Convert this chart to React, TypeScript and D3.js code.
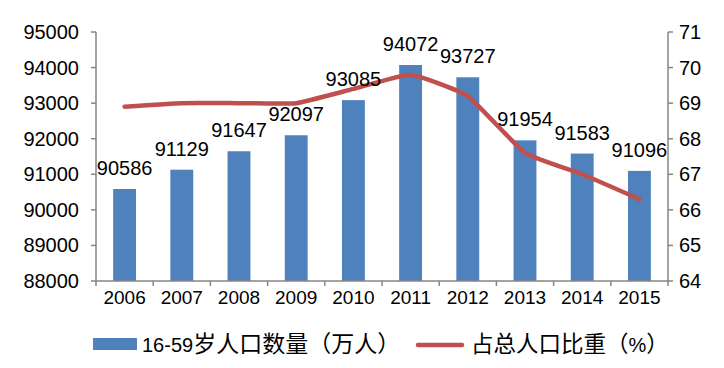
import React, { useEffect, useRef } from 'react'
import * as d3 from 'd3'

// data
const years = ['2006', '2007', '2008', '2009', '2010', '2011', '2012', '2013', '2014', '2015']
const population = [90586, 91129, 91647, 92097, 93085, 94072, 93727, 91954, 91583, 91096]
const share = [68.9, 69.0, 69.0, 69.0, 69.4, 69.8, 69.2, 67.6, 67.0, 66.3]
const leftTicks = [88000, 89000, 90000, 91000, 92000, 93000, 94000, 95000]
const rightTicks = [64, 65, 66, 67, 68, 69, 70, 71]
const barName = ['16-59', '岁人口数量（万人）']
const lineName = ['', '占总人口比重（', '%', '）']

const W = 724
const H = 368
const font = '"Liberation Sans", Arial, "Noto Sans CJK SC", sans-serif'
const cjk = '"Noto Sans CJK SC", sans-serif'

function App() {
  const ref = useRef<SVGSVGElement>(null)

  useEffect(() => {
    const svg = d3.select(ref.current)
    svg.selectAll('*').remove()

    const left = 96, right = 668, top = 32, bottom = 281

    const x = d3.scaleBand().domain(years).range([left, right]).paddingInner(0.6).paddingOuter(0.3)
    const yL = d3.scaleLinear().domain([88000, 95000]).range([bottom, top])
    const yR = d3.scaleLinear().domain([64, 71]).range([bottom, top])
    const axisColor = '#868686'

    // bars
    svg.append('g')
      .selectAll('rect')
      .data(population)
      .enter()
      .append('rect')
      .attr('x', (d, i) => x(years[i]))
      .attr('y', (d) => yL(d))
      .attr('width', x.bandwidth())
      .attr('height', (d) => bottom - yL(d))
      .attr('fill', '#4F81BD')

    // axes
    const g = svg.append('g').attr('stroke', axisColor).attr('stroke-width', 1.5)
    g.append('line').attr('x1', left).attr('x2', left).attr('y1', top).attr('y2', bottom)
    g.append('line').attr('x1', right).attr('x2', right).attr('y1', top).attr('y2', bottom)
    g.append('line').attr('x1', left).attr('x2', right).attr('y1', bottom).attr('y2', bottom)
    leftTicks.forEach((t) => {
      g.append('line').attr('x1', left - 5).attr('x2', left).attr('y1', yL(t)).attr('y2', yL(t))
    })
    rightTicks.forEach((t) => {
      g.append('line').attr('x1', right).attr('x2', right + 5).attr('y1', yR(t)).attr('y2', yR(t))
    })
    const step = (right - left) / years.length
    d3.range(years.length + 1).forEach((i) => {
      g.append('line').attr('x1', left + i * step).attr('x2', left + i * step).attr('y1', bottom).attr('y2', bottom + 5)
    })

    svg.append('g')
      .selectAll('text')
      .data(leftTicks)
      .enter()
      .append('text')
      .attr('x', left - 17)
      .attr('y', (d) => yL(d) + 7)
      .attr('text-anchor', 'end')
      .attr('font-size', 20)
      .attr('font-family', font)
      .text((d) => d)

    svg.append('g')
      .selectAll('text')
      .data(rightTicks)
      .enter()
      .append('text')
      .attr('x', right + 11)
      .attr('y', (d) => yR(d) + 7)
      .attr('font-size', 20)
      .attr('font-family', font)
      .text((d) => d)

    svg.append('g')
      .selectAll('text')
      .data(years)
      .enter()
      .append('text')
      .attr('x', (d) => x(d) + x.bandwidth() / 2)
      .attr('y', bottom + 23)
      .attr('text-anchor', 'middle')
      .attr('font-size', 19)
      .attr('font-family', font)
      .text((d) => d)

    // line
    const line = d3.line<number>()
      .x((d, i) => x(years[i]) + x.bandwidth() / 2)
      .y((d) => yR(d))
      .curve(d3.curveCardinal.tension(0.6))
    svg.append('path')
      .datum(share)
      .attr('d', line)
      .attr('fill', 'none')
      .attr('stroke', '#C0504D')
      .attr('stroke-width', 4.5)
      .attr('stroke-linecap', 'round')

    // data labels
    svg.append('g')
      .selectAll('text')
      .data(population)
      .enter()
      .append('text')
      .attr('x', (d, i) => x(years[i]) + x.bandwidth() / 2)
      .attr('y', (d) => yL(d) - 14)
      .attr('text-anchor', 'middle')
      .attr('font-size', 20)
      .attr('font-family', font)
      .text((d) => d)

    // legend
    const lg = svg.append('g').attr('font-family', font).attr('font-size', 20)
    lg.append('rect').attr('x', 93).attr('y', 338).attr('width', 44).attr('height', 12).attr('fill', '#4F81BD')
    const t1 = lg.append('text').attr('x', 142).attr('y', 352)
    t1.append('tspan').text(barName[0])
    t1.append('tspan').attr('font-family', cjk).attr('font-size', 23).text(barName[1])
    lg.append('line').attr('x1', 418).attr('x2', 462).attr('y1', 345).attr('y2', 345)
      .attr('stroke', '#C0504D').attr('stroke-width', 4.5).attr('stroke-linecap', 'round')
    const t2 = lg.append('text').attr('x', 471).attr('y', 352)
    t2.append('tspan').attr('font-family', cjk).attr('font-size', 22.5).text(lineName[1])
    t2.append('tspan').text(lineName[2])
    t2.append('tspan').attr('font-family', cjk).attr('font-size', 22.5).text(lineName[3])
  }, [])

  return (
    <svg ref={ref} width={W} height={H} style={{ position: 'absolute', left: 0, top: 0, background: '#fff' }} />
  )
}

export default App
